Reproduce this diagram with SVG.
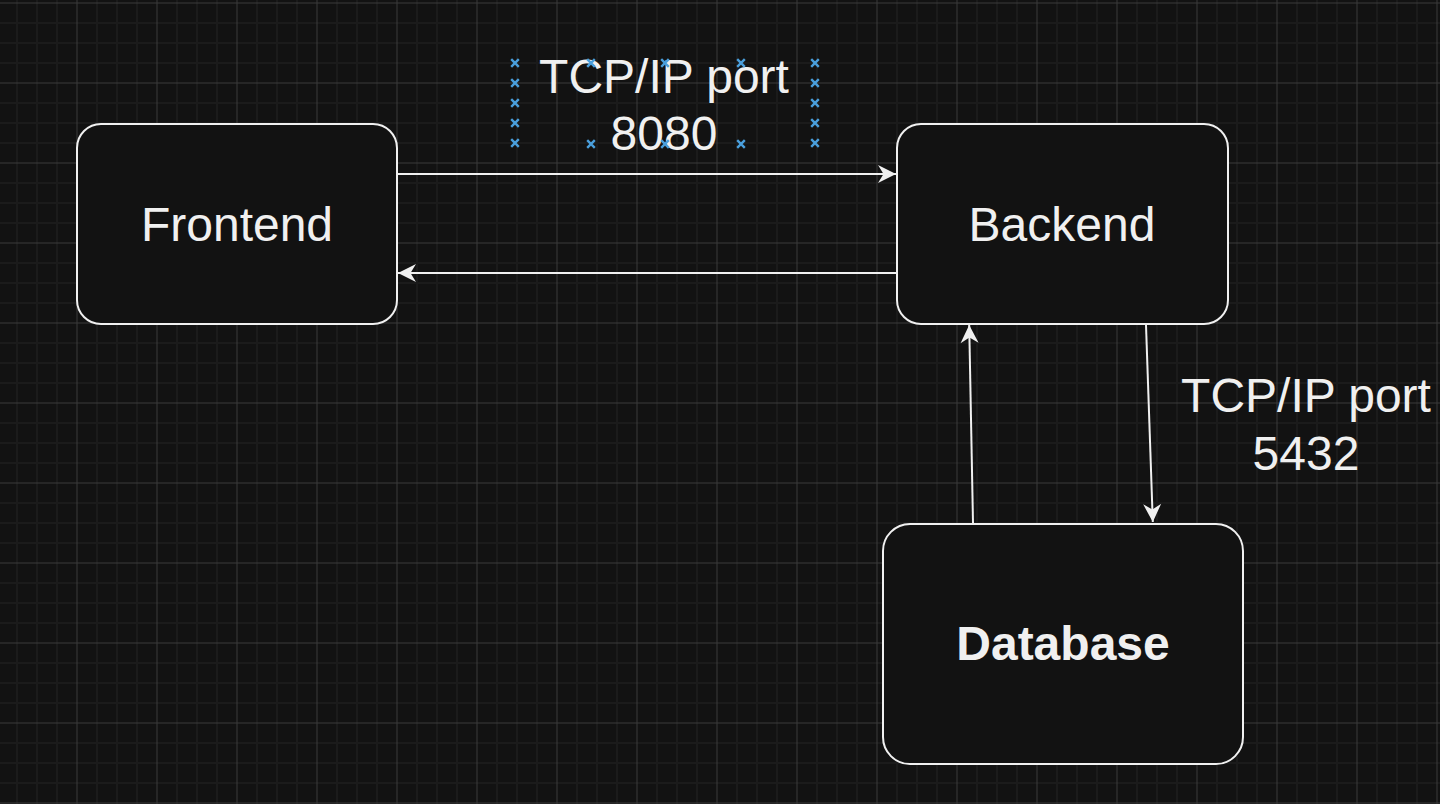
<svg xmlns="http://www.w3.org/2000/svg" width="1440" height="804" viewBox="0 0 1440 804">
<style>
.node{fill:#121212;stroke:#f0f0f0;stroke-width:2}
.lbl{font-family:"Liberation Sans",Arial,Helvetica,sans-serif;font-size:48px;fill:#f0f0f0;text-anchor:middle}
.bold{font-weight:bold}
.edge{fill:none;stroke:#f0f0f0;stroke-width:2}
.hdl{stroke:#4a9fdc;stroke-width:2.4;fill:none}
</style>
<defs>
<pattern id="grid" patternUnits="userSpaceOnUse" x="67" y="-7" width="80" height="80">
<rect width="80" height="80" fill="#121212"/>
<path d="M30 0V80M50 0V80M70 0V80M0 30H80M0 50H80M0 70H80" stroke="#1b1b1b" stroke-width="2"/>
<path d="M10 0V80M0 10H80" stroke="#3a3a3a" stroke-width="1"/>
</pattern>
<marker id="arr" markerUnits="userSpaceOnUse" viewBox="-20 -10 20 20" refX="0" refY="0" markerWidth="20" markerHeight="20" orient="auto">
<path d="M0 0L-18 -9L-12.5 0L-18 9Z" fill="#f0f0f0"/>
</marker>
<path id="x" d="M-3.8 -3.8L3.8 3.8M-3.8 3.8L3.8 -3.8"/>
</defs>
<rect width="1440" height="804" fill="url(#grid)"/>
<g id="connectors">
<path class="edge" d="M398 174H896" marker-end="url(#arr)"/>
<path class="edge" d="M896 273H398" marker-end="url(#arr)"/>
<path class="edge" d="M973 523L969.2 325" marker-end="url(#arr)"/>
<path class="edge" d="M1146 325L1152.8 522" marker-end="url(#arr)"/>
</g>
<g id="frontend">
<rect class="node" x="77" y="124" width="320" height="200" rx="24"/>
<text class="lbl" x="237" y="241">Frontend</text>
</g>
<g id="backend">
<rect class="node" x="897" y="124" width="331" height="200" rx="24"/>
<text class="lbl" x="1062" y="241">Backend</text>
</g>
<g id="database">
<rect class="node" x="883" y="524" width="360" height="240" rx="27"/>
<text class="lbl bold" x="1063" y="660">Database</text>
</g>
<g id="label-8080">
<text class="lbl" x="664" y="93">TCP/IP port</text>
<text class="lbl" x="664" y="150">8080</text>
</g>
<g id="label-5432">
<text class="lbl" x="1306" y="412">TCP/IP port</text>
<text class="lbl" x="1306" y="470">5432</text>
</g>
<g id="selection-handles" class="hdl">
<use href="#x" x="515" y="63"/><use href="#x" x="515" y="83"/><use href="#x" x="515" y="103"/><use href="#x" x="515" y="123"/><use href="#x" x="515" y="143"/>
<use href="#x" x="815" y="63"/><use href="#x" x="815" y="83"/><use href="#x" x="815" y="103"/><use href="#x" x="815" y="123"/><use href="#x" x="815" y="143"/>
<use href="#x" x="591" y="63"/><use href="#x" x="665" y="63"/><use href="#x" x="741" y="63"/>
<use href="#x" x="591" y="144"/><use href="#x" x="665" y="144"/><use href="#x" x="741" y="144"/>
</g>
</svg>
